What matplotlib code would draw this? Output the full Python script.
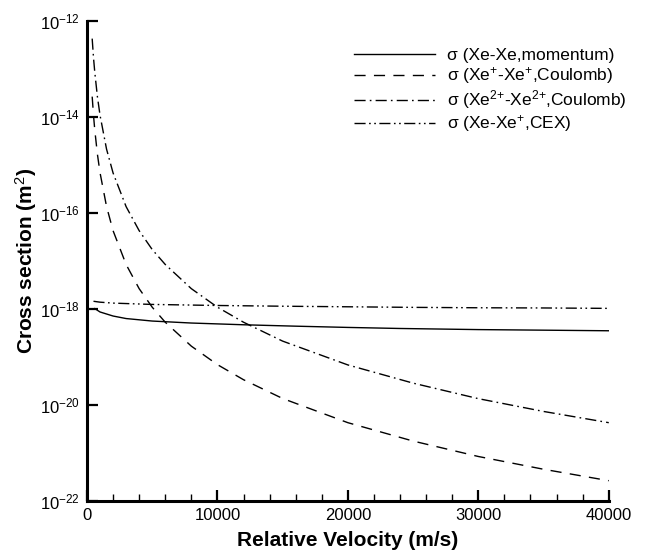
import matplotlib
matplotlib.use("Agg")
import matplotlib.pyplot as plt
from matplotlib.ticker import MultipleLocator, FixedLocator, NullLocator

plt.rcParams['font.family'] = ['Liberation Sans', 'DejaVu Sans']
plt.rcParams['mathtext.fontset'] = 'custom'
plt.rcParams['mathtext.rm'] = 'Liberation Sans'
plt.rcParams['mathtext.it'] = 'Liberation Sans'
plt.rcParams['mathtext.bf'] = 'Liberation Sans:bold'

# momentum transfer, Xe-Xe
v_mom = [600, 1000, 2000, 3000, 5000, 8000, 12000, 16000, 20000, 24000, 30000, 35000, 40000]
s_mom = [1.0e-18, 8.5e-19, 7.0e-19, 6.2e-19, 5.5e-19, 5.0e-19, 4.6e-19, 4.3e-19,
         4.05e-19, 3.85e-19, 3.65e-19, 3.55e-19, 3.45e-19]

# Coulomb, Xe+ - Xe+
v_c1 = [400, 500, 600, 800, 1000, 1500, 2000, 3000, 4000, 5000, 6000, 8000, 10000,
        12000, 15000, 20000, 25000, 30000, 35000, 40000]
s_c1 = [2.6e-14, 1.07e-14, 5.2e-15, 1.65e-15, 6.8e-16, 1.34e-16, 4.2e-17, 8.3e-18,
        2.6e-18, 1.07e-18, 5.2e-19, 1.65e-19, 6.8e-20, 3.3e-20, 1.34e-20, 4.2e-21,
        1.74e-21, 8.3e-22, 4.5e-22, 2.6e-22]

# Coulomb, Xe2+ - Xe2+
v_c2 = [400, 500, 600, 800, 1000, 1500, 2000, 3000, 4000, 5000, 6000, 8000, 10000,
        12000, 15000, 20000, 25000, 30000, 35000, 40000]
s_c2 = [4.2e-13, 1.7e-13, 8.3e-14, 2.6e-14, 1.07e-14, 2.1e-15, 6.7e-16, 1.33e-16,
        4.2e-17, 1.7e-17, 8.3e-18, 2.6e-18, 1.07e-18, 5.2e-19, 2.1e-19, 6.7e-20,
        2.8e-20, 1.33e-20, 7.2e-21, 4.2e-21]

# charge exchange, Xe-Xe+
v_cex = [500, 1000, 2000, 5000, 10000, 15000, 20000, 25000, 30000, 35000, 40000]
s_cex = [1.42e-18, 1.36e-18, 1.3e-18, 1.22e-18, 1.16e-18, 1.12e-18, 1.09e-18,
         1.06e-18, 1.04e-18, 1.03e-18, 1.01e-18]

labels = [r'σ (Xe-Xe,momentum)',
          r'σ (Xe$^{{+}}$-Xe$^{{+}}$,Coulomb)',
          r'σ (Xe$^{2{+}}$-Xe$^{2{+}}$,Coulomb)',
          r'σ (Xe-Xe$^{{+}}$,CEX)']

fig = plt.figure(figsize=(6.49, 5.55), dpi=100)
ax = fig.add_axes([0.134, 0.098, 0.804, 0.865])

ax.plot(v_mom, s_mom, color='black', lw=1.0, label=labels[0])
ax.plot(v_c1, s_c1, color='black', lw=1.0, dashes=(8, 6), label=labels[1])
ax.plot(v_c2, s_c2, color='black', lw=1.0, dashes=(8, 3, 1.2, 3), label=labels[2])
ax.plot(v_cex, s_cex, color='black', lw=1.0, dashes=(8, 2.5, 1.2, 2.5, 1.2, 2.5), label=labels[3])

ax.set_yscale('log')
ax.set_xlim(0, 40000)
ax.set_ylim(1e-22, 1e-12)

ax.xaxis.set_major_locator(MultipleLocator(10000))
ax.xaxis.set_minor_locator(MultipleLocator(2000))
ax.yaxis.set_major_locator(FixedLocator([1e-22, 1e-20, 1e-18, 1e-16, 1e-14, 1e-12]))
ax.yaxis.set_minor_locator(NullLocator())
ax.set_yticklabels([r'10$^{-22}$', r'10$^{-20}$', r'10$^{-18}$', r'10$^{-16}$',
                    r'10$^{-14}$', r'10$^{-12}$'])

ax.spines['top'].set_visible(False)
ax.spines['right'].set_visible(False)
ax.spines['left'].set_linewidth(2.2)
ax.spines['bottom'].set_linewidth(2.2)
ax.tick_params(which='major', direction='in', length=8, width=1.6, labelsize=12, pad=5)
ax.tick_params(which='minor', direction='in', length=5, width=1.0)

ax.set_xlabel('Relative Velocity (m/s)', fontsize=15, fontweight='bold', labelpad=6)
ax.set_ylabel('Cross section (m$^{2}$)', fontsize=15, fontweight='bold', labelpad=1)

ax.legend(loc='upper right', bbox_to_anchor=(1.065, 0.975), frameon=False, fontsize=12.5,
          handlelength=4.7, handletextpad=0.7, labelspacing=0.12)

fig.savefig('out.png', dpi=100)
